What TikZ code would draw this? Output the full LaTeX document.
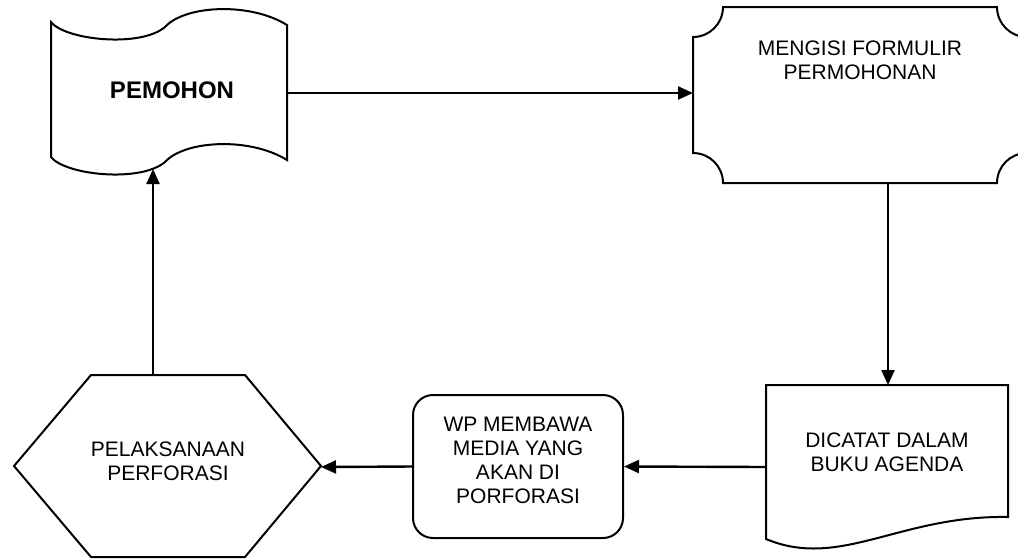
\documentclass[tikz,border=0pt]{standalone}
\usepackage{fontspec}
\setmainfont{Liberation Sans}
\usetikzlibrary{arrows.meta}
\begin{document}
\begin{tikzpicture}[x=1pt,y=-1pt,
  shapeline/.style={draw=black, line width=2pt, line join=miter},
  lbl/.style={font=\fontsize{21}{24}\selectfont, align=center, inner sep=0pt},
  conn/.style={draw=black, line width=2.4pt, -{Triangle[length=15pt,width=13pt]}}]
\useasboundingbox (0,0) rectangle (1018,558);
\clip (0,0) rectangle (1018,558);
% PEMOHON (punched tape)
\draw[shapeline] (51,22) .. controls (65,40) and (140,48) .. (165,27)
  .. controls (185,5) and (250,2) .. (287,25) -- (287,160)
  .. controls (250,137) and (185,140) .. (165,162)
  .. controls (140,183) and (65,175) .. (51,157) -- cycle;
\node[lbl, font=\bfseries\fontsize{24}{28}\selectfont] (pemohon) at (172,90) {PEMOHON};
\coordinate (pemR) at (287,93);
\coordinate (pemB) at (153,169);
% MENGISI (plaque)
\draw[shapeline] (693,37) .. controls (709.6,37) and (723,23.6) .. (723,7) -- (997,7)
  .. controls (997,23.6) and (1010.4,37) .. (1027,37) -- (1027,153)
  .. controls (1010.4,153) and (997,166.4) .. (997,183) -- (723,183)
  .. controls (723,166.4) and (709.6,153) .. (693,153) -- cycle;
\node[lbl] (mengisi) at (860,60) {MENGISI FORMULIR\\PERMOHONAN};
\coordinate (menL) at (693,93);
\coordinate (menB) at (888,183);
% DICATAT (document)
\draw[shapeline] (766,385) -- (1008,385) -- (1008,517)
  .. controls (900,515) and (840,570) .. (766,539) -- cycle;
\node[lbl] (dicatat) at (887,452) {DICATAT DALAM\\BUKU AGENDA};
\coordinate (dicT) at (888,385);
\coordinate (dicL) at (766,467);
% WP box
\node[shapeline, rounded corners=20pt, minimum width=210pt, minimum height=143pt, inner sep=0pt] (wp) at (518,466.5) {};
\node[lbl] (wptext) at (518,460) {WP MEMBAWA\\MEDIA YANG\\AKAN DI\\PORFORASI};
% Hexagon
\draw[shapeline] (14,466) -- (91,375) -- (245,375) -- (321,466) -- (245,557) -- (91,557) -- cycle;
\node[lbl] (pelaksanaan) at (168,461) {PELAKSANAAN\\PERFORASI};
\coordinate (hexR) at (321,467);
\coordinate (hexT) at (153,375);
% connectors
\draw[conn] (pemR) -- (menL);
\draw[conn] (menB) -- (dicT);
\draw[conn] (dicL) -- (wp.east);
\draw[conn] (wp.west) -- (hexR);
\draw[conn] (hexT) -- (pemB);
\end{tikzpicture}
\end{document}
